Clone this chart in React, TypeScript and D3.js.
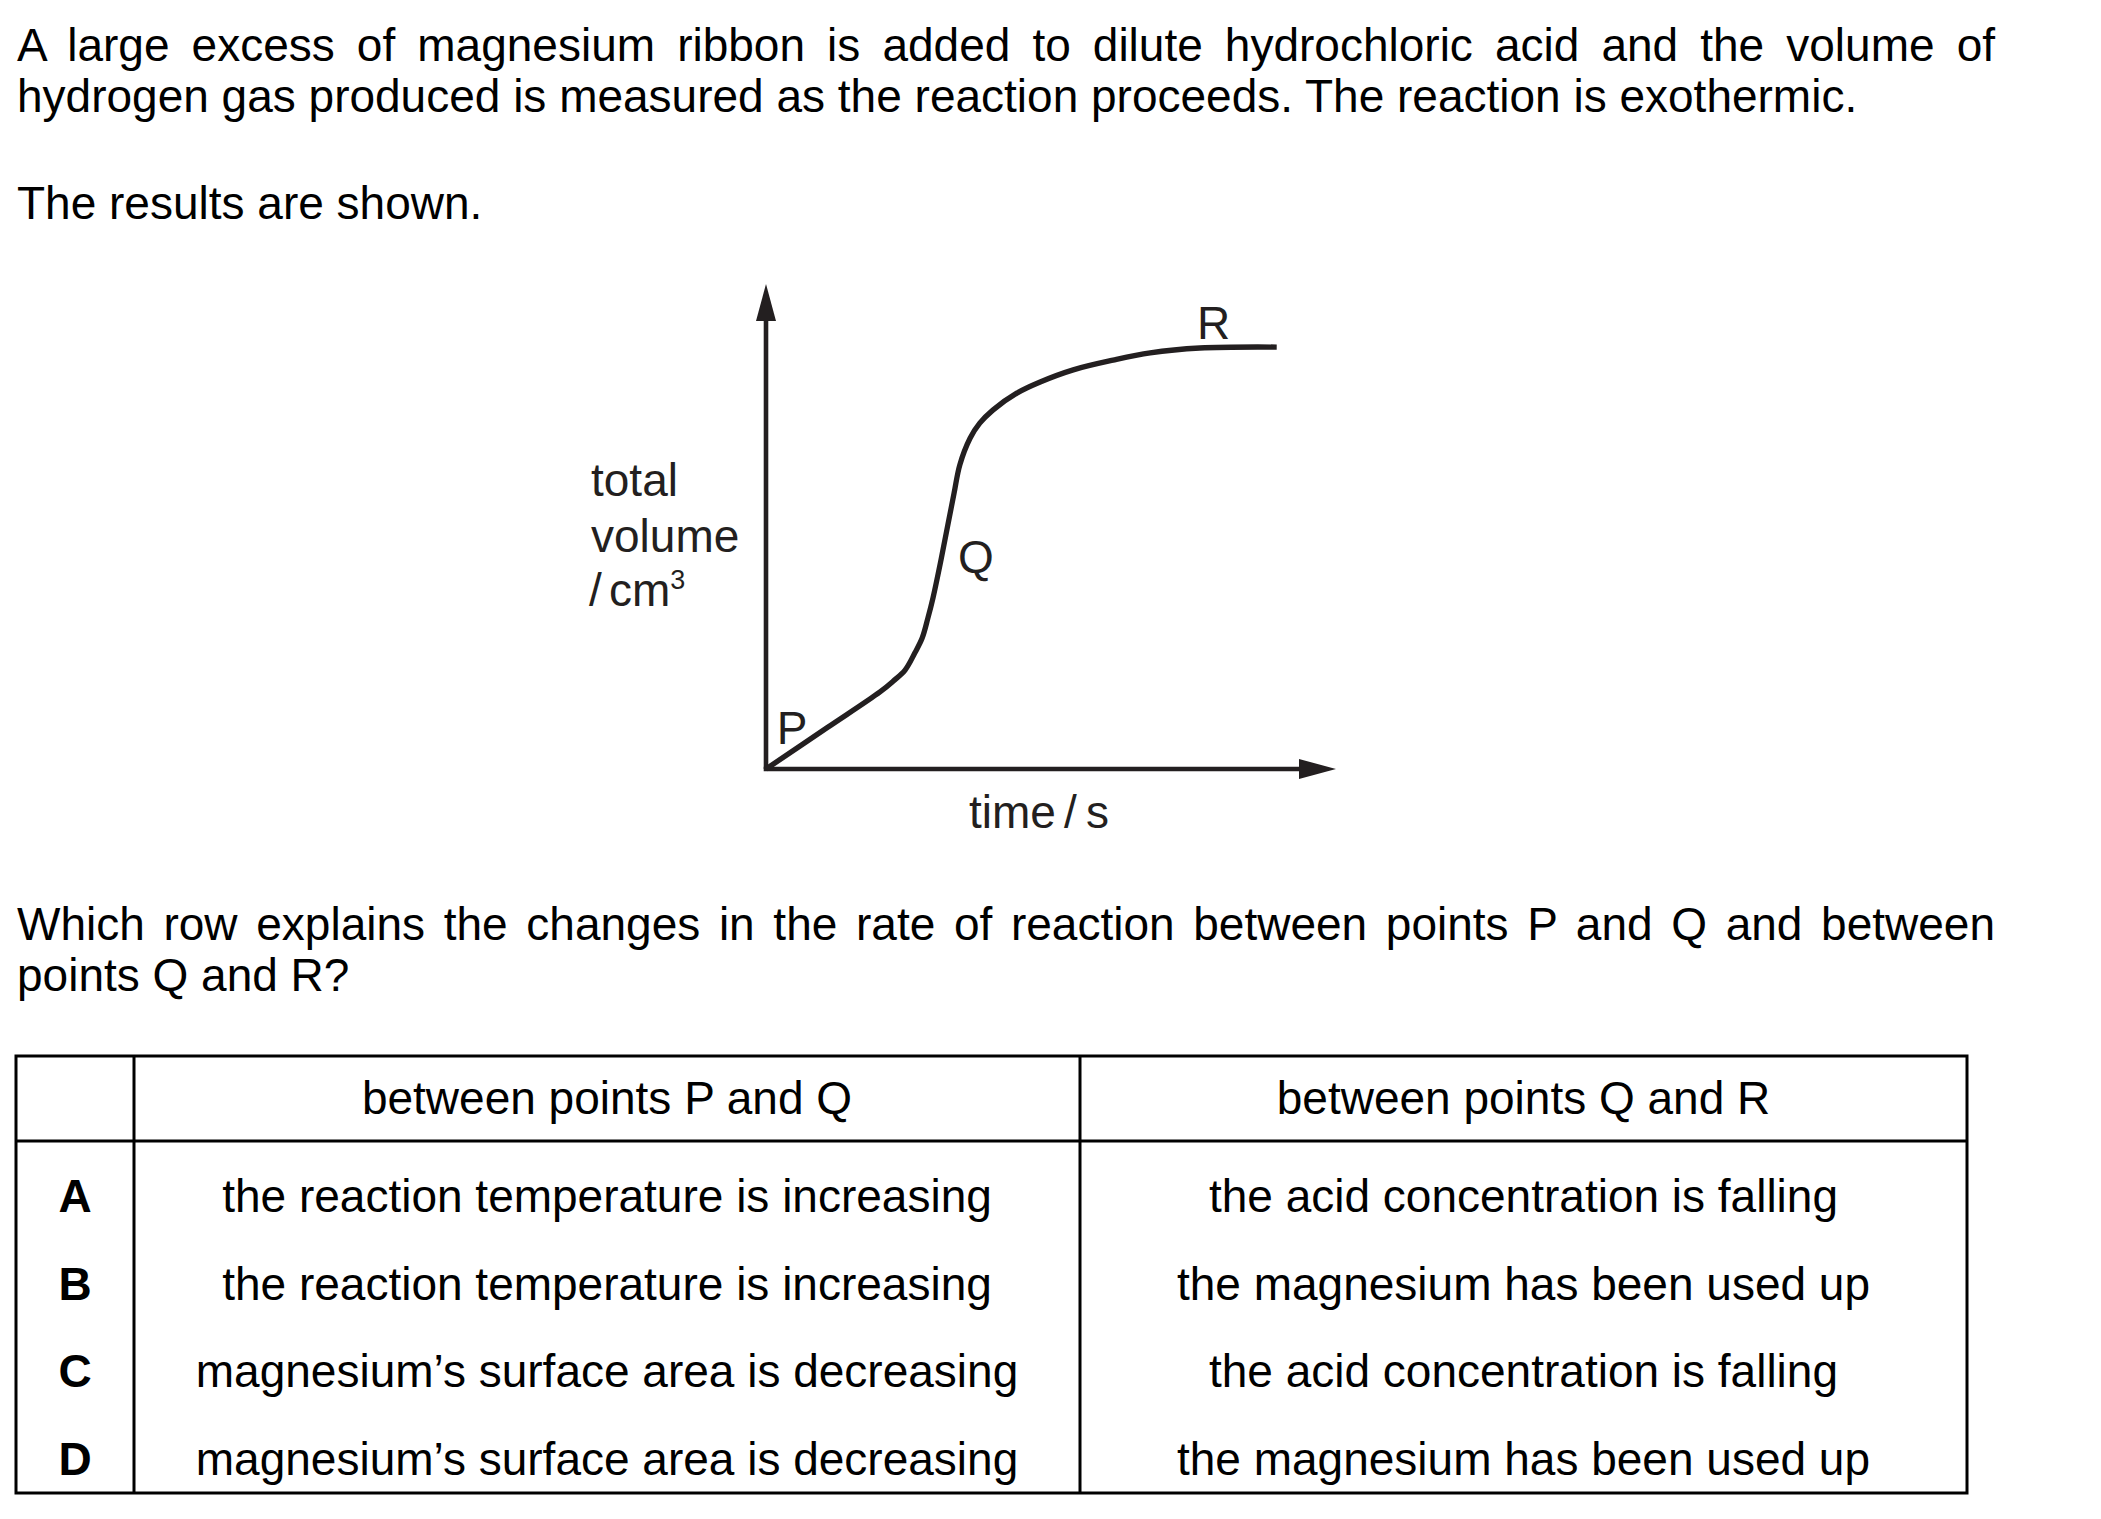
import React, { useEffect, useRef } from 'react';
import * as d3 from 'd3';

const WIDTH = 2101;
const HEIGHT = 1519;
const FONT = '"Liberation Sans", Arial, Helvetica, sans-serif';
const INK = '#231f20';

// total volume against time (both axes run 0 - 100)
const times = [0, 10.7, 20.0, 22.3, 24.4, 26.1, 27.4, 28.4, 29.3, 30.7, 31.9, 33.0, 34.0, 35.8, 37.5, 39.8, 44.0, 48.1, 53.9, 60.9, 67.4, 76.1, 89.6];
const volumes = [0, 8.5, 15.9, 18.1, 20.4, 23.9, 27.0, 31.1, 35.3, 43.1, 50.3, 56.9, 62.7, 68.2, 71.3, 74.0, 77.5, 79.8, 82.3, 84.3, 85.8, 86.8, 87.0];

// labelled points on the curve
const pointNames = ['P', 'Q', 'R'];
const pointTimes = [1.9, 33.7, 75.6];
const pointVolumes = [5.2, 40.4, 88.7];

const introLines = [
  'A large excess of magnesium ribbon is added to dilute hydrochloric acid and the volume of',
  'hydrogen gas produced is measured as the reaction proceeds. The reaction is exothermic.'
];
const shownLine = 'The results are shown.';
const questionLines = [
  'Which row explains the changes in the rate of reaction between points P and Q and between',
  'points Q and R?'
];

const headers = ['between points P and Q', 'between points Q and R'];
const rowLetters = ['A', 'B', 'C', 'D'];
const pqAnswers = [
  'the reaction temperature is increasing',
  'the reaction temperature is increasing',
  'magnesium\u2019s surface area is decreasing',
  'magnesium\u2019s surface area is decreasing'
];
const qrAnswers = [
  'the acid concentration is falling',
  'the magnesium has been used up',
  'the acid concentration is falling',
  'the magnesium has been used up'
];

const FS = 46;
const LEFT = 17;
const RIGHT = 1995;

function justify(sel: any, width: number) {
  sel.each(function (this: SVGTextElement) {
    const natural = this.getComputedTextLength();
    const gaps = ((this.textContent || '').match(/ /g) || []).length;
    if (gaps > 0) d3.select(this).style('word-spacing', (width - natural) / gaps + 'px');
  });
}

export default function App() {
  const ref = useRef<SVGSVGElement>(null);

  useEffect(() => {
    const svg = d3.select(ref.current);
    svg.selectAll('*').remove();
    svg.append('rect').attr('width', WIDTH).attr('height', HEIGHT).attr('fill', '#fff');

    const g = svg.append('g')
      .attr('font-family', FONT)
      .attr('font-size', FS)
      .attr('fill', '#000');

    // question text
    const intro = g.selectAll('.intro').data(introLines).enter().append('text')
      .attr('class', 'intro')
      .attr('x', LEFT)
      .attr('y', (d, i) => 61 + i * 51)
      .text(d => d);
    justify(intro.filter((d, i) => i === 0), RIGHT - LEFT);

    g.append('text').attr('x', LEFT).attr('y', 219).text(shownLine);

    const question = g.selectAll('.question').data(questionLines).enter().append('text')
      .attr('class', 'question')
      .attr('x', LEFT)
      .attr('y', (d, i) => 940 + i * 51)
      .text(d => d);
    justify(question.filter((d, i) => i === 0), RIGHT - LEFT);

    // sketch graph
    const x = d3.scaleLinear().domain([0, 100]).range([766, 1336]);
    const y = d3.scaleLinear().domain([0, 100]).range([769, 284]);
    const head = 37, half = 10;

    const axes = g.append('g').attr('stroke', INK).attr('stroke-width', 4.6).attr('fill', 'none');
    axes.append('line')
      .attr('x1', x(0)).attr('y1', y(0))
      .attr('x2', x(0)).attr('y2', y(100) + head);
    axes.append('line')
      .attr('x1', x(0) - 2.3).attr('y1', y(0))
      .attr('x2', x(100) - head).attr('y2', y(0));

    g.append('path')
      .attr('fill', INK)
      .attr('d', `M${x(0)},${y(100)}L${x(0) + half},${y(100) + head}L${x(0) - half},${y(100) + head}Z`);
    g.append('path')
      .attr('fill', INK)
      .attr('d', `M${x(100)},${y(0)}L${x(100) - head},${y(0) - half}L${x(100) - head},${y(0) + half}Z`);

    const line = d3.line<number>()
      .x((d, i) => x(times[i]))
      .y(d => y(d))
      .curve(d3.curveCatmullRom.alpha(0.5));

    g.append('path')
      .datum(volumes)
      .attr('fill', 'none')
      .attr('stroke', INK)
      .attr('stroke-width', 5.3)
      .attr('stroke-linejoin', 'round')
      .attr('d', line);

    g.selectAll('.pt').data(pointNames).enter().append('text')
      .attr('class', 'pt')
      .attr('fill', INK)
      .attr('x', (d, i) => x(pointTimes[i]))
      .attr('y', (d, i) => y(pointVolumes[i]))
      .text(d => d);

    // axis labels
    const ylab = g.append('text').attr('fill', INK);
    ylab.append('tspan').attr('x', 591).attr('y', 496).text('total');
    ylab.append('tspan').attr('x', 591).attr('y', 552).text('volume');
    const unit = g.append('text').attr('fill', INK).attr('y', 606);
    unit.append('tspan').attr('x', 589).text('/');
    unit.append('tspan').attr('x', 609).text('cm');
    unit.append('tspan').attr('font-size', 27).attr('dy', -17).text('3');

    const xlab = g.append('text').attr('fill', INK).attr('y', 828);
    xlab.append('tspan').attr('x', 969).text('time');
    xlab.append('tspan').attr('x', 1064).text('/');
    xlab.append('tspan').attr('x', 1086).text('s');

    // answer table
    const cols = [16, 134, 1080, 1967];
    const rows = [1056, 1141, 1493];
    const grid = g.append('g').attr('stroke', '#000').attr('stroke-width', 3).attr('fill', 'none');
    grid.append('rect')
      .attr('x', cols[0]).attr('y', rows[0])
      .attr('width', cols[3] - cols[0]).attr('height', rows[2] - rows[0]);
    grid.append('line').attr('x1', cols[0]).attr('x2', cols[3]).attr('y1', rows[1]).attr('y2', rows[1]);
    grid.selectAll('.col').data([cols[1], cols[2]]).enter().append('line')
      .attr('x1', d => d).attr('x2', d => d).attr('y1', rows[0]).attr('y2', rows[2]);

    const mid = (i: number) => (cols[i] + cols[i + 1]) / 2;
    const rowY = (i: number) => 1212 + i * 87.7;

    g.selectAll('.head').data(headers).enter().append('text')
      .attr('text-anchor', 'middle')
      .attr('x', (d, i) => mid(i + 1))
      .attr('y', 1114)
      .text(d => d);

    g.selectAll('.letter').data(rowLetters).enter().append('text')
      .attr('text-anchor', 'middle')
      .attr('font-weight', 'bold')
      .attr('x', mid(0))
      .attr('y', (d, i) => rowY(i))
      .text(d => d);

    g.selectAll('.pq').data(pqAnswers).enter().append('text')
      .attr('text-anchor', 'middle')
      .attr('x', mid(1))
      .attr('y', (d, i) => rowY(i))
      .text(d => d);

    g.selectAll('.qr').data(qrAnswers).enter().append('text')
      .attr('text-anchor', 'middle')
      .attr('x', mid(2))
      .attr('y', (d, i) => rowY(i))
      .text(d => d);
  }, []);

  return (
    <div style={{ position: 'absolute', left: 0, top: 0 }}>
      <svg ref={ref} width={WIDTH} height={HEIGHT} style={{ display: 'block' }} />
    </div>
  );
}
